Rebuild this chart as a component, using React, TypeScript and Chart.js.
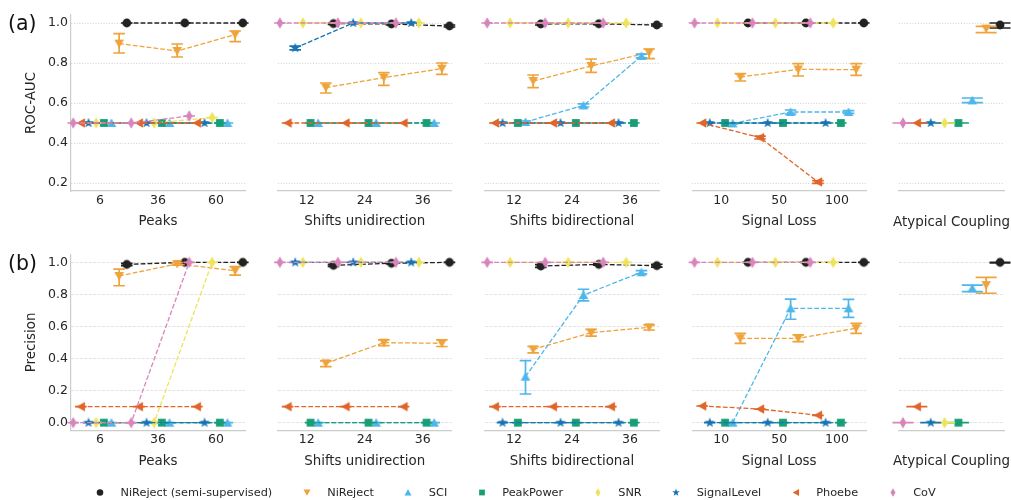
import React, { useEffect, useRef } from 'react';
import { Chart, registerables } from 'chart.js';

Chart.register(...registerables);

// ---------------- data ----------------
const SERIES = ['NiReject (semi-supervised)', 'NiReject', 'SCI', 'PeakPower', 'SNR', 'SignalLevel', 'Phoebe', 'CoV'];

const PANEL_TITLES = ['Peaks', 'Shifts unidirection', 'Shifts bidirectional', 'Signal Loss', 'Atypical Coupling'];
const PEAKS_LABELS = ['6', '36', '60'];
const SHIFTS_UNI_LABELS = ['12', '24', '36'];
const SHIFTS_BI_LABELS = ['12', '24', '36'];
const SIGNAL_LOSS_LABELS = ['10', '50', '100'];
const ATYPICAL_LABELS = [''];
const PANEL_LABELS = [PEAKS_LABELS, SHIFTS_UNI_LABELS, SHIFTS_BI_LABELS, SIGNAL_LOSS_LABELS, ATYPICAL_LABELS];

const AUC_TICKS = [0.2, 0.4, 0.6, 0.8, 1.0];
const PRECISION_TICKS = [0.0, 0.2, 0.4, 0.6, 0.8, 1.0];

// 13 entries per array: Peaks(3) | Shifts uni(3) | Shifts bi(3) | Signal loss(3) | Atypical(1)
// ---- ROC-AUC ----
const AUC_SEMI = [1.0, 1.0, 1.0, 0.997, 0.995, 0.985, 0.995, 0.996, 0.99, 1.0, 1.0, 1.0, 0.99];
const AUC_SEMI_LO = [1.0, 1.0, 1.0, 0.993, 0.99, 0.98, 0.99, 0.992, 0.985, 1.0, 1.0, 1.0, 0.975];
const AUC_SEMI_HI = [1.0, 1.0, 1.0, 1.0, 1.0, 0.99, 1.0, 1.0, 0.995, 1.0, 1.0, 1.0, 1.0];
const AUC_NIREJECT = [0.897, 0.86, 0.942, 0.677, 0.727, 0.772, 0.71, 0.785, 0.852, 0.73, 0.768, 0.767, 0.972];
const AUC_NIREJECT_LO = [0.85, 0.83, 0.907, 0.65, 0.688, 0.743, 0.677, 0.753, 0.822, 0.71, 0.735, 0.738, 0.952];
const AUC_NIREJECT_HI = [0.947, 0.895, 0.96, 0.7, 0.752, 0.8, 0.74, 0.82, 0.87, 0.747, 0.797, 0.797, 0.983];
const AUC_SCI = [0.5, 0.5, 0.5, 0.5, 0.5, 0.5, 0.505, 0.588, 0.835, 0.498, 0.555, 0.555, 0.613];
const AUC_SCI_LO = [0.5, 0.5, 0.5, 0.5, 0.5, 0.5, 0.5, 0.58, 0.826, 0.495, 0.545, 0.548, 0.602];
const AUC_SCI_HI = [0.5, 0.5, 0.5, 0.5, 0.5, 0.5, 0.51, 0.596, 0.844, 0.5, 0.565, 0.562, 0.625];
const AUC_PEAKPOWER = [0.5, 0.5, 0.5, 0.5, 0.5, 0.5, 0.5, 0.5, 0.5, 0.5, 0.5, 0.5, 0.5];
const AUC_SNR = [0.5, 0.5, 0.527, 1.0, 1.0, 1.0, 1.0, 1.0, 1.0, 1.0, 1.0, 1.0, 0.5];
const AUC_SIGNALLEVEL = [0.5, 0.5, 0.5, 0.875, 1.0, 1.0, 0.5, 0.5, 0.5, 0.5, 0.5, 0.5, 0.5];
const AUC_SIGNALLEVEL_LO = [0.5, 0.5, 0.5, 0.866, 1.0, 1.0, 0.5, 0.5, 0.5, 0.5, 0.5, 0.5, 0.5];
const AUC_SIGNALLEVEL_HI = [0.5, 0.5, 0.5, 0.884, 1.0, 1.0, 0.5, 0.5, 0.5, 0.5, 0.5, 0.5, 0.5];
const AUC_PHOEBE = [0.5, 0.5, 0.5, 0.5, 0.5, 0.5, 0.5, 0.5, 0.5, 0.5, 0.427, 0.205, 0.5];
const AUC_PHOEBE_LO = [0.5, 0.5, 0.5, 0.5, 0.5, 0.5, 0.5, 0.5, 0.5, 0.5, 0.42, 0.198, 0.5];
const AUC_PHOEBE_HI = [0.5, 0.5, 0.5, 0.5, 0.5, 0.5, 0.5, 0.5, 0.5, 0.5, 0.434, 0.212, 0.5];
const AUC_COV = [0.5, 0.5, 0.535, 1.0, 1.0, 1.0, 1.0, 1.0, 1.0, 1.0, 1.0, 1.0, 0.5];

// ---- Precision ----
const PREC_SEMI = [0.987, 1.0, 1.0, 0.981, 0.994, 1.0, 0.977, 0.987, 0.979, 1.0, 1.0, 1.0, 1.0];
const PREC_SEMI_LO = [0.98, 1.0, 1.0, 0.975, 0.99, 1.0, 0.968, 0.982, 0.97, 1.0, 1.0, 1.0, 0.997];
const PREC_SEMI_HI = [0.994, 1.0, 1.0, 0.987, 0.998, 1.0, 0.986, 0.992, 0.988, 1.0, 1.0, 1.0, 1.0];
const PREC_NIREJECT = [0.915, 0.99, 0.948, 0.37, 0.499, 0.495, 0.457, 0.561, 0.595, 0.526, 0.526, 0.589, 0.858];
const PREC_NIREJECT_LO = [0.854, 0.982, 0.92, 0.35, 0.48, 0.475, 0.435, 0.54, 0.578, 0.495, 0.505, 0.557, 0.807];
const PREC_NIREJECT_HI = [0.958, 0.998, 0.973, 0.386, 0.516, 0.516, 0.475, 0.582, 0.61, 0.557, 0.547, 0.62, 0.906];
const PREC_SCI = [0.0, 0.0, 0.0, 0.0, 0.0, 0.0, 0.287, 0.796, 0.938, 0.0, 0.713, 0.713, 0.838];
const PREC_SCI_LO = [0.0, 0.0, 0.0, 0.0, 0.0, 0.0, 0.179, 0.76, 0.928, 0.0, 0.645, 0.657, 0.817];
const PREC_SCI_HI = [0.0, 0.0, 0.0, 0.0, 0.0, 0.0, 0.387, 0.832, 0.948, 0.0, 0.771, 0.769, 0.858];
const PREC_PEAKPOWER = [0.0, 0.0, 0.0, 0.0, 0.0, 0.0, 0.0, 0.0, 0.0, 0.0, 0.0, 0.0, 0.0];
const PREC_SNR = [0.0, 0.0, 1.0, 1.0, 1.0, 1.0, 1.0, 1.0, 1.0, 1.0, 1.0, 1.0, 0.0];
const PREC_SIGNALLEVEL = [0.0, 0.0, 0.0, 1.0, 1.0, 1.0, 0.0, 0.0, 0.0, 0.0, 0.0, 0.0, 0.0];
const PREC_PHOEBE = [0.1, 0.1, 0.1, 0.1, 0.1, 0.1, 0.1, 0.1, 0.1, 0.104, 0.085, 0.046, 0.1];
const PREC_COV = [0.0, 0.0, 1.0, 1.0, 1.0, 1.0, 1.0, 1.0, 1.0, 1.0, 1.0, 1.0, 0.0];

const ROWS = [
  {
    title: 'ROC-AUC',
    ticks: AUC_TICKS,
    values: [AUC_SEMI, AUC_NIREJECT, AUC_SCI, AUC_PEAKPOWER, AUC_SNR, AUC_SIGNALLEVEL, AUC_PHOEBE, AUC_COV],
    lo: [AUC_SEMI_LO, AUC_NIREJECT_LO, AUC_SCI_LO, AUC_PEAKPOWER, AUC_SNR, AUC_SIGNALLEVEL_LO, AUC_PHOEBE_LO, AUC_COV],
    hi: [AUC_SEMI_HI, AUC_NIREJECT_HI, AUC_SCI_HI, AUC_PEAKPOWER, AUC_SNR, AUC_SIGNALLEVEL_HI, AUC_PHOEBE_HI, AUC_COV],
  },
  {
    title: 'Precision',
    ticks: PRECISION_TICKS,
    values: [PREC_SEMI, PREC_NIREJECT, PREC_SCI, PREC_PEAKPOWER, PREC_SNR, PREC_SIGNALLEVEL, PREC_PHOEBE, PREC_COV],
    lo: [PREC_SEMI_LO, PREC_NIREJECT_LO, PREC_SCI_LO, PREC_PEAKPOWER, PREC_SNR, PREC_SIGNALLEVEL, PREC_PHOEBE, PREC_COV],
    hi: [PREC_SEMI_HI, PREC_NIREJECT_HI, PREC_SCI_HI, PREC_PEAKPOWER, PREC_SNR, PREC_SIGNALLEVEL, PREC_PHOEBE, PREC_COV],
  },
];

// ---------------- style / layout ----------------
const W = 1011;
const H = 500;
const FONT = '"DejaVu Sans", sans-serif';
const TEXT_COLOR = '#262626';
const SPINE = '#cccccc';
const COLORS = ['#222222', '#EFA33A', '#4EB6EA', '#179E77', '#EEE35A', '#1673B4', '#E0652A', '#D785BB'];
const SHAPES = ['circle', 'triDown', 'triUp', 'square', 'thinDiamond', 'star', 'triLeft', 'thinDiamond'];

const PANEL_LEFT = [71, 277.7, 485, 692.3, 899];
const PANEL_RIGHT = [245, 451.7, 659, 866, 1004];
const ROW_LAYOUT = [
  { top: 15, bottom: 191, min: 0.16, max: 1.04, gridColor: '#d2d2d2', gridWidth: 1, gridDash: [1, 1.7], labelY: 23 },
  { top: 254.3, bottom: 430.7, min: -0.05, max: 1.05, gridColor: '#dcdcdc', gridWidth: 0.8, gridDash: [3, 1.4], labelY: 263 },
];
const X_AXIS_H = 45;
const Y_AXIS_W = 71;
const DODGE_STEP = 0.132;
const CAP = 0.1;

const PANEL_START = PANEL_LABELS.map((_, p) => PANEL_LABELS.slice(0, p).reduce((a, l) => a + l.length, 0));

function dodge(s: number) {
  return (3.5 - s) * DODGE_STEP;
}

function drawShape(ctx: CanvasRenderingContext2D, shape: string, cx: number, cy: number, k: number) {
  ctx.beginPath();
  switch (shape) {
    case 'circle':
      ctx.arc(cx, cy, 4.4 * k, 0, Math.PI * 2);
      break;
    case 'triDown':
      ctx.moveTo(cx - 4.8 * k, cy - 4.1 * k);
      ctx.lineTo(cx + 4.8 * k, cy - 4.1 * k);
      ctx.lineTo(cx, cy + 4.4 * k);
      break;
    case 'triUp':
      ctx.moveTo(cx - 4.8 * k, cy + 4.1 * k);
      ctx.lineTo(cx + 4.8 * k, cy + 4.1 * k);
      ctx.lineTo(cx, cy - 4.4 * k);
      break;
    case 'square':
      ctx.rect(cx - 3.9 * k, cy - 3.9 * k, 7.8 * k, 7.8 * k);
      break;
    case 'thinDiamond':
      ctx.moveTo(cx, cy - 5.8 * k);
      ctx.lineTo(cx + 3.4 * k, cy);
      ctx.lineTo(cx, cy + 5.8 * k);
      ctx.lineTo(cx - 3.4 * k, cy);
      break;
    case 'star':
      for (let i = 0; i < 10; i++) {
        const r = (i % 2 === 0 ? 5.3 : 2.2) * k;
        const a = -Math.PI / 2 + (i * Math.PI) / 5;
        const px = cx + r * Math.cos(a);
        const py = cy + r * Math.sin(a);
        if (i === 0) ctx.moveTo(px, py);
        else ctx.lineTo(px, py);
      }
      break;
    case 'triLeft':
      ctx.moveTo(cx - 4.4 * k, cy);
      ctx.lineTo(cx + 4.1 * k, cy - 4.8 * k);
      ctx.lineTo(cx + 4.1 * k, cy + 4.8 * k);
      break;
  }
  ctx.closePath();
  ctx.fill();
}

function makeMarker(s: number): HTMLCanvasElement {
  const c = document.createElement('canvas');
  c.width = 16;
  c.height = 16;
  const ctx = c.getContext('2d')!;
  ctx.fillStyle = COLORS[s];
  drawShape(ctx, SHAPES[s], 8, 8, 1);
  return c;
}

function makeConfig(r: number, p: number, markers: HTMLCanvasElement[]): any {
  const row = ROWS[r];
  const lay = ROW_LAYOUT[r];
  const labels = PANEL_LABELS[p];
  const start = PANEL_START[p];
  const n = labels.length;
  const isFirst = p === 0;
  const datasets: any[] = [];
  SERIES.forEach((name, s) => {
    const v = row.values[s].slice(start, start + n);
    const lo = row.lo[s].slice(start, start + n);
    const hi = row.hi[s].slice(start, start + n);
    const xs = v.map((_, i) => i + dodge(s));
    const err: any[] = [];
    xs.forEach((x, i) => {
      err.push(
        { x, y: lo[i] }, { x, y: hi[i] }, { x, y: null },
        { x: x - CAP, y: lo[i] }, { x: x + CAP, y: lo[i] }, { x, y: null },
        { x: x - CAP, y: hi[i] }, { x: x + CAP, y: hi[i] }, { x, y: null },
      );
    });
    datasets.push({
      label: name + ' CI',
      data: err,
      borderColor: COLORS[s],
      borderWidth: 1.7,
      pointRadius: 0,
      spanGaps: false,
      clip: false,
      order: (7 - s) * 2 + 1,
    });
    datasets.push({
      label: name,
      data: xs.map((x, i) => ({ x, y: v[i] })),
      borderColor: COLORS[s],
      backgroundColor: COLORS[s],
      borderWidth: 1.3,
      borderDash: [4.8, 2.1],
      pointStyle: markers[s],
      pointRadius: 5,
      clip: false,
      order: (7 - s) * 2,
    });
  });
  const tickFont = { family: FONT, size: 12.5 };
  const titleFont = { family: FONT, size: 13.4 };
  return {
    type: 'line',
    data: { datasets },
    options: {
      responsive: false,
      maintainAspectRatio: false,
      animation: false,
      events: [],
      layout: {
        padding: {
          left: isFirst ? 0 : PANEL_LEFT[p],
          right: W - PANEL_RIGHT[p],
          top: lay.top,
          bottom: H - lay.bottom - X_AXIS_H,
        },
      },
      plugins: { legend: { display: false }, tooltip: { enabled: false } },
      scales: {
        x: {
          type: 'linear',
          min: -0.5,
          max: n - 0.5,
          grid: { display: false, drawTicks: false },
          border: { display: true, color: SPINE, width: 1.2 },
          afterBuildTicks: (sc: any) => {
            sc.ticks = labels.map((_, i) => ({ value: i }));
          },
          afterFit: (sc: any) => {
            sc.height = X_AXIS_H;
          },
          ticks: {
            callback: (_v: any, i: number) => labels[i],
            font: tickFont,
            color: TEXT_COLOR,
            padding: 2,
            maxRotation: 0,
            autoSkip: false,
          },
          title: {
            display: p < 4,
            text: PANEL_TITLES[p],
            font: titleFont,
            color: TEXT_COLOR,
            padding: { top: 0, bottom: 6 },
          },
        },
        y: {
          type: 'linear',
          min: lay.min,
          max: lay.max,
          grid: { color: lay.gridColor, lineWidth: lay.gridWidth, drawTicks: false },
          border: { display: isFirst, color: SPINE, width: 1.2, dash: lay.gridDash },
          afterBuildTicks: (sc: any) => {
            sc.ticks = row.ticks.map((v) => ({ value: v }));
          },
          afterFit: (sc: any) => {
            sc.width = isFirst ? Y_AXIS_W : 0;
          },
          ticks: {
            display: isFirst,
            callback: (v: any) => Number(v).toFixed(1),
            font: tickFont,
            color: TEXT_COLOR,
            padding: 3,
          },
          title: {
            display: isFirst,
            text: row.title,
            font: titleFont,
            color: TEXT_COLOR,
            padding: { top: 23, bottom: 0 },
          },
        },
      },
    },
  };
}

function LegendMarker({ s }: { s: number }) {
  const ref = useRef<HTMLCanvasElement | null>(null);
  useEffect(() => {
    const c = ref.current;
    if (!c) return;
    const ctx = c.getContext('2d')!;
    ctx.clearRect(0, 0, c.width, c.height);
    ctx.fillStyle = COLORS[s];
    drawShape(ctx, SHAPES[s], 10, 8.5, 0.74);
  }, [s]);
  return <canvas ref={ref} width={20} height={17} style={{ display: 'block' }} />;
}

export default function App() {
  const refs = useRef<(HTMLCanvasElement | null)[]>([]);
  useEffect(() => {
    const markers = SERIES.map((_, s) => makeMarker(s));
    const charts: Chart[] = [];
    ROWS.forEach((_, r) => {
      PANEL_LABELS.forEach((__, p) => {
        const c = refs.current[r * 5 + p];
        if (c) charts.push(new Chart(c, makeConfig(r, p, markers)));
      });
    });
    return () => charts.forEach((ch) => ch.destroy());
  }, []);

  const canvases = [];
  for (let i = 0; i < 10; i++) {
    canvases.push(
      <canvas
        key={i}
        ref={(el) => {
          refs.current[i] = el;
        }}
        width={W}
        height={H}
        style={{ position: 'absolute', left: 0, top: 0, width: W, height: H }}
      />,
    );
  }

  return (
    <div
      style={{
        position: 'fixed',
        left: 0,
        top: 0,
        width: W,
        height: H,
        overflow: 'hidden',
        background: '#ffffff',
        fontFamily: FONT,
        color: TEXT_COLOR,
      }}
    >
      {canvases}
      {['(a)', '(b)'].map((t, r) => (
        <div
          key={t}
          style={{
            position: 'absolute',
            left: 8,
            top: ROW_LAYOUT[r].labelY - 10.5,
            fontSize: 20.5,
            lineHeight: '21px',
            color: '#111111',
            whiteSpace: 'nowrap',
          }}
        >
          {t}
        </div>
      ))}
      {ROW_LAYOUT.map((lay, r) => (
        <div
          key={'atyp' + r}
          style={{
            position: 'absolute',
            left: (PANEL_LEFT[4] + PANEL_RIGHT[4]) / 2,
            top: lay.bottom + 30.7 - 8,
            transform: 'translateX(-50%)',
            fontSize: 13.4,
            lineHeight: '16px',
            whiteSpace: 'nowrap',
          }}
        >
          {PANEL_TITLES[4]}
        </div>
      ))}
      <div
        style={{
          position: 'absolute',
          left: 90,
          top: 484,
          height: 17,
          display: 'flex',
          alignItems: 'center',
          fontSize: 11.3,
          whiteSpace: 'nowrap',
        }}
      >
        {SERIES.map((name, s) => (
          <div key={name} style={{ display: 'flex', alignItems: 'center', marginLeft: s ? 24.5 : 0 }}>
            <LegendMarker s={s} />
            <span style={{ marginLeft: 10.5, lineHeight: '17px' }}>{name}</span>
          </div>
        ))}
      </div>
    </div>
  );
}
